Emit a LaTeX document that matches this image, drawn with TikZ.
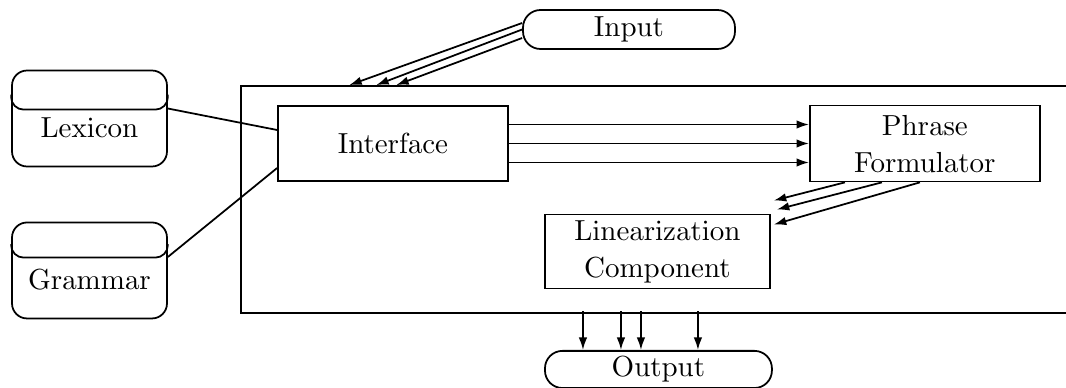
\documentclass[tikz,border=0pt]{standalone}
\usetikzlibrary{arrows.meta,positioning}
\font\diagramrm=cmr10 at 16.5pt
\begin{document}
\begin{tikzpicture}[x=0.02cm, y=-0.02cm, node distance=1.5cm, font={\diagramrm\baselineskip=21pt}]

\tikzstyle{module} = [rectangle, minimum width=4.6cm, minimum height=1.5cm, text centered, align=center, draw=black, line width=1pt]
\tikzstyle{store} = [rectangle, rounded corners=0.3cm, minimum width=3.1cm, minimum height=1.92cm, text height=0.86cm, text depth=0.1cm, draw=black, line width=1pt]
\tikzstyle{io} = [rectangle, rounded corners=0.35cm, minimum width=4.24cm, minimum height=0.78cm, text centered, draw=black, line width=1pt]
\tikzstyle{arrow} = [line width=1pt, -{Latex[length=2.5mm,width=1.7mm]}]
\tikzstyle{link} = [line width=1pt]

\useasboundingbox (0,0) rectangle (1066,388);
\clip (0,0) rectangle (1066,388);

% Nodes
\node (system) [rectangle, draw=black, line width=1pt, minimum width=16.78cm, minimum height=4.54cm] at (660.5,199.5) {};
\node (input) [io] at (629,29.5) {Input};
\node (lexicon) [store] at (89.5,118.5) {Lexicon};
\node (grammar) [store, below of=lexicon, yshift=-1.54cm] {Grammar};
\node (interface) [module] at (393,143.5) {Interface};
\node (phrase) [module, right of=interface, xshift=9.14cm, minimum height=1.52cm] {Phrase\\Formulator};
\node (linear) [module, below of=interface, xshift=5.29cm, yshift=-0.66cm, minimum width=4.5cm, minimum height=1.34cm] {Linearization\\Component};
\node (output) [io, below of=linear, xshift=0.02cm, yshift=-0.86cm, minimum width=4.54cm, minimum height=0.7cm] {Output};

% Drums
\draw [link, rounded corners=0.25cm] ([yshift=-0.5cm]lexicon.north west) |- ([yshift=-0.8cm]lexicon.north) -| ([yshift=-0.5cm]lexicon.north east);
\draw [link, rounded corners=0.25cm] ([yshift=-0.45cm]grammar.north west) |- ([yshift=-0.72cm]grammar.north) -| ([yshift=-0.45cm]grammar.north east);

% Arrows
\draw [arrow] ([yshift=0.13cm]input.west) -- ([xshift=2.18cm]system.north west);
\draw [arrow] (input.west) -- ([xshift=2.72cm]system.north west);
\draw [arrow] ([yshift=-0.17cm]input.west) -- ([xshift=3.12cm]system.north west);
\draw [link] ([yshift=0.2cm]lexicon.east) -- ([yshift=0.27cm]interface.west);
\draw [link] ([yshift=0.27cm]grammar.east) -- ([yshift=-0.49cm]interface.west);
\draw [arrow] ([yshift=0.38cm]interface.east) -- ([yshift=0.38cm]phrase.west);
\draw [arrow] (interface.east) -- (phrase.west);
\draw [arrow] ([yshift=-0.38cm]interface.east) -- ([yshift=-0.38cm]phrase.west);
\draw [arrow] ([xshift=-1.6cm]phrase.south) -- ([xshift=0.06cm,yshift=0.26cm]linear.north east);
\draw [arrow] ([xshift=-0.86cm]phrase.south) -- ([xshift=0.12cm,yshift=0.08cm]linear.north east);
\draw [arrow] ([xshift=-0.1cm]phrase.south) -- ([xshift=0.06cm,yshift=-0.22cm]linear.north east);
\draw [arrow] ([xshift=-1.51cm,yshift=0.78cm]output.north) -- ([xshift=-1.51cm]output.north);
\draw [arrow] ([xshift=-0.75cm,yshift=0.78cm]output.north) -- ([xshift=-0.75cm]output.north);
\draw [arrow] ([xshift=-0.35cm,yshift=0.78cm]output.north) -- ([xshift=-0.35cm]output.north);
\draw [arrow] ([xshift=0.79cm,yshift=0.78cm]output.north) -- ([xshift=0.79cm]output.north);

\end{tikzpicture}
\end{document}
